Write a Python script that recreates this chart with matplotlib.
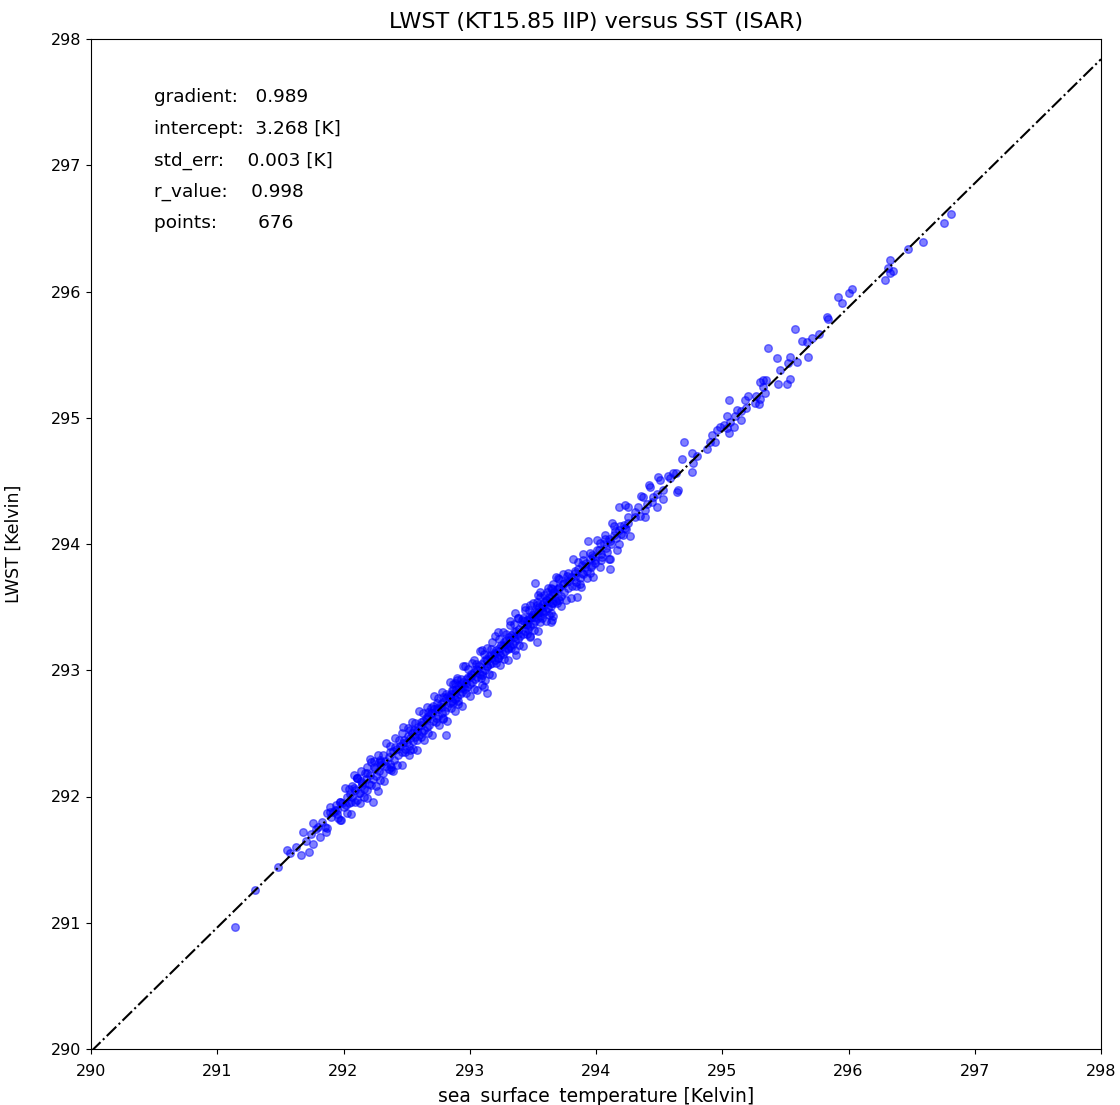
import matplotlib
matplotlib.use("Agg")
import matplotlib.pyplot as plt

# (SST [K], LWST [K]) pairs, grouped by region
pts_low = [
    (291.14, 290.97), (291.30, 291.26), (291.48, 291.44), (291.55, 291.58), (291.66, 291.54),
    (291.73, 291.56), (291.68, 291.72), (291.76, 291.62), (291.76, 291.79), (291.80, 291.76),
    (291.81, 291.68), (291.87, 291.75), (291.89, 291.88), (291.93, 291.89), (291.96, 291.83),
    (291.98, 291.81), (292.00, 291.92), (292.04, 291.95), (291.97, 291.96), (292.07, 292.00),
    (292.11, 291.97), (292.08, 292.07), (292.11, 292.15), (292.15, 292.09), (292.19, 292.05),
    (292.19, 292.19), (292.24, 292.23), (292.28, 292.27), (292.38, 292.21), (292.22, 292.27),
    (291.85, 291.76), (291.97, 291.81), (291.87, 291.87), (291.95, 291.89), (292.03, 292.00),
    (292.13, 292.03), (292.27, 292.04), (292.15, 292.11), (292.30, 292.25), (292.38, 292.23),
    (292.37, 292.35), (292.53, 292.37), (292.47, 292.42), (292.46, 292.50), (292.67, 292.67),
    (292.74, 292.74), (292.88, 292.90), (293.10, 292.88), (292.81, 292.49), (292.79, 292.62),
    (292.61, 292.59), (292.53, 292.53), (292.58, 292.45), (292.41, 292.39), (292.29, 292.29),
    (292.19, 292.23), (292.11, 292.15), (292.07, 292.08), (292.23, 291.96), (291.97, 291.96),
    (291.89, 291.92), (291.62, 291.60), (291.70, 291.65), (291.74, 291.70), (291.78, 291.74),
    (291.83, 291.80), (291.86, 291.72), (291.90, 291.84), (291.94, 291.93), (291.58, 291.55),
]

pts_mid = [
    (293.54, 293.60), (293.71, 293.56), (293.65, 293.40), (293.38, 293.41), (293.48, 293.26),
    (293.30, 293.18), (293.22, 293.10), (293.14, 293.03), (293.00, 292.95), (292.95, 292.87),
    (292.79, 292.79), (292.78, 292.71), (292.87, 292.74), (293.36, 293.45), (293.32, 293.36),
    (293.53, 293.22), (293.37, 293.12), (293.22, 293.30), (293.18, 293.22), (293.10, 293.16),
    (293.03, 293.08), (292.95, 293.03), (293.10, 292.96), (293.14, 292.82), (293.11, 292.87),
    (292.90, 292.92), (292.86, 292.84), (292.91, 292.76), (292.71, 292.72), (292.69, 292.66),
    (294.02, 293.95), (294.09, 293.94), (293.97, 293.91), (294.05, 293.90), (294.11, 293.88),
    (293.90, 293.87), (293.99, 293.87), (293.97, 293.83), (293.91, 293.82), (294.11, 293.80),
    (294.03, 293.82), (293.83, 293.79), (293.89, 293.77), (293.95, 293.77), (293.77, 293.75),
    (293.83, 293.74), (293.70, 293.73), (293.52, 293.69), (293.79, 293.71), (293.75, 293.69),
    (293.87, 293.68), (293.66, 293.68), (293.71, 293.65), (293.64, 293.65), (293.61, 293.62),
    (293.66, 293.61), (293.85, 293.58), (293.56, 293.58), (293.60, 293.56), (293.53, 293.54),
    (293.65, 293.53), (293.48, 293.52), (293.58, 293.50), (293.44, 293.48), (293.54, 293.46),
    (293.64, 293.45), (293.49, 293.42), (293.64, 293.38), (293.42, 293.41), (293.56, 293.38),
    (293.45, 293.37), (293.94, 294.02), (294.11, 294.02), (294.03, 294.01), (294.17, 293.95),
    (294.07, 294.04),
]

pts_core_a = [
    (291.92, 291.88), (291.95, 291.86), (291.99, 291.95), (292.02, 291.93), (292.05, 292.02),
    (292.06, 291.96), (292.09, 292.05), (292.12, 292.03), (292.14, 292.12), (292.16, 292.06),
    (292.18, 292.14), (292.20, 292.10), (292.21, 292.17), (292.23, 292.14), (292.25, 292.22),
    (292.26, 292.16), (292.28, 292.20), (292.30, 292.27), (292.31, 292.19), (292.33, 292.28),
    (292.34, 292.24), (292.36, 292.31), (292.37, 292.26), (292.39, 292.36), (292.40, 292.29),
    (292.42, 292.38), (292.43, 292.33), (292.45, 292.40), (292.46, 292.35), (292.48, 292.45),
    (292.49, 292.38), (292.50, 292.43), (292.51, 292.48), (292.52, 292.40), (292.54, 292.50),
    (292.55, 292.44), (292.56, 292.53), (292.57, 292.47), (292.59, 292.55), (292.60, 292.49),
    (292.61, 292.57), (292.62, 292.51), (292.63, 292.60), (292.64, 292.53), (292.65, 292.62),
    (292.66, 292.55), (292.67, 292.64), (292.68, 292.57), (292.70, 292.66), (292.71, 292.60),
    (292.72, 292.69), (292.73, 292.62), (292.74, 292.70), (292.75, 292.64), (292.77, 292.73),
    (292.78, 292.66), (292.79, 292.75), (292.80, 292.68), (292.58, 292.52), (292.66, 292.61),
    (292.75, 292.69), (292.53, 292.46), (292.81, 292.78), (292.82, 292.71), (292.83, 292.80),
    (292.84, 292.74), (292.85, 292.81), (292.86, 292.76), (292.87, 292.84), (292.88, 292.77),
    (292.89, 292.85), (292.90, 292.79), (292.91, 292.88), (292.92, 292.81), (292.93, 292.89),
    (292.94, 292.83), (292.95, 292.91), (292.96, 292.85), (292.97, 292.93), (292.98, 292.87),
    (292.99, 292.95), (293.00, 292.89), (293.01, 292.97), (293.02, 292.91), (293.03, 292.99),
    (293.04, 292.93), (293.05, 293.01), (293.06, 292.95), (293.07, 293.03), (293.08, 292.97),
    (293.09, 293.05), (293.10, 292.99), (292.84, 292.79), (292.93, 292.86), (293.02, 292.96),
    (292.88, 292.82), (292.97, 292.90), (293.06, 293.00), (293.11, 293.07), (293.12, 293.00),
    (293.13, 293.09), (293.14, 293.03), (293.15, 293.11), (293.16, 293.05), (293.17, 293.12),
    (293.18, 293.06), (293.19, 293.14), (293.20, 293.08), (293.21, 293.16), (293.22, 293.10),
    (293.23, 293.18), (293.24, 293.12), (293.25, 293.20), (293.26, 293.13), (293.27, 293.22),
    (293.28, 293.15), (293.29, 293.24), (293.30, 293.17), (293.31, 293.26), (293.32, 293.19),
    (293.33, 293.28), (293.34, 293.21), (293.35, 293.30), (293.36, 293.23), (293.37, 293.31),
    (293.38, 293.25), (293.39, 293.33), (293.40, 293.27), (293.14, 293.08), (293.20, 293.13),
    (293.26, 293.19), (293.32, 293.24), (293.38, 293.29), (293.17, 293.10), (293.23, 293.15),
    (293.29, 293.21), (293.35, 293.26), (293.41, 293.37), (293.42, 293.29), (293.43, 293.39),
    (293.44, 293.31), (293.45, 293.40), (293.46, 293.33), (293.47, 293.42), (293.48, 293.35),
    (293.49, 293.44), (293.50, 293.37), (293.51, 293.46), (293.52, 293.39), (293.53, 293.48),
    (293.54, 293.41), (293.55, 293.50), (293.56, 293.43), (293.57, 293.52), (293.58, 293.45),
    (293.59, 293.54), (293.60, 293.47), (293.61, 293.56), (293.62, 293.49), (293.63, 293.58),
    (293.64, 293.51), (293.65, 293.60), (293.66, 293.53), (293.67, 293.62), (293.68, 293.55),
    (293.69, 293.64), (293.70, 293.57), (293.45, 293.36), (293.51, 293.42), (293.57, 293.47),
    (293.63, 293.54), (293.48, 293.41), (293.54, 293.45), (293.71, 293.66), (293.72, 293.59),
    (293.74, 293.68), (293.75, 293.62), (293.77, 293.71), (293.78, 293.65), (293.80, 293.74),
    (293.81, 293.67), (293.83, 293.77), (293.84, 293.70), (293.86, 293.80), (293.87, 293.73),
    (293.89, 293.83), (293.90, 293.76), (293.92, 293.85), (293.93, 293.79), (293.95, 293.88),
    (293.96, 293.82), (293.98, 293.90), (293.99, 293.85), (294.01, 293.95), (294.04, 293.92),
    (294.06, 294.00), (294.08, 293.97), (294.10, 294.04), (294.12, 294.00), (294.14, 294.07),
    (294.16, 294.05), (294.18, 294.11), (294.20, 294.08), (294.22, 294.15), (294.24, 294.12),
]

pts_core_b = [
    (292.01, 292.07), (292.03, 291.87), (292.04, 292.06), (292.06, 291.86), (292.08, 292.17),
    (292.09, 291.96), (292.11, 292.15), (292.13, 291.95), (292.14, 292.20), (292.16, 292.00),
    (292.17, 292.19), (292.19, 291.99), (292.21, 292.30), (292.22, 292.09), (292.24, 292.28),
    (292.26, 292.08), (292.27, 292.33), (292.29, 292.13), (292.31, 292.33), (292.32, 292.12),
    (292.34, 292.42), (292.36, 292.22), (292.37, 292.40), (292.39, 292.20), (292.41, 292.46),
    (292.42, 292.25), (292.44, 292.45), (292.46, 292.25), (292.47, 292.55), (292.49, 292.35),
    (292.51, 292.54), (292.52, 292.33), (292.54, 292.59), (292.55, 292.38), (292.57, 292.58),
    (292.58, 292.37), (292.60, 292.68), (292.61, 292.47), (292.63, 292.66), (292.64, 292.45),
    (292.66, 292.71), (292.67, 292.50), (292.69, 292.70), (292.70, 292.49), (292.72, 292.80),
    (292.73, 292.59), (292.75, 292.78), (292.76, 292.57), (292.78, 292.83), (292.79, 292.61),
    (292.81, 292.81), (292.82, 292.60), (292.84, 292.91), (292.85, 292.70), (292.87, 292.89),
    (292.88, 292.68), (292.90, 292.94), (292.91, 292.73), (292.93, 292.93), (292.94, 292.72),
    (292.96, 293.03), (292.97, 292.82), (292.99, 293.01), (293.00, 292.80), (293.02, 293.06),
    (293.03, 292.85), (293.05, 293.05), (293.06, 292.84), (293.08, 293.15), (293.09, 292.94),
    (293.11, 293.13), (293.12, 292.92), (293.14, 293.18), (293.15, 292.97), (293.17, 293.17),
    (293.18, 292.96), (293.20, 293.27), (293.21, 293.06), (293.23, 293.25), (293.24, 293.04),
    (293.26, 293.30), (293.27, 293.09), (293.29, 293.29), (293.30, 293.08), (293.32, 293.39),
    (293.33, 293.18), (293.35, 293.37), (293.36, 293.16), (293.38, 293.41), (293.39, 293.20),
    (293.41, 293.40), (293.42, 293.19), (293.44, 293.50), (293.45, 293.29), (293.47, 293.48),
    (293.48, 293.27), (293.50, 293.53), (293.51, 293.32), (293.53, 293.52), (293.54, 293.31),
    (293.56, 293.62), (293.57, 293.41), (293.59, 293.60), (293.60, 293.39), (293.62, 293.65),
    (293.63, 293.44), (293.65, 293.64), (293.66, 293.43), (293.68, 293.74), (293.69, 293.53),
    (293.71, 293.72), (293.72, 293.51), (293.74, 293.76), (293.76, 293.56), (293.78, 293.77),
    (293.80, 293.57), (293.82, 293.88), (293.84, 293.67), (293.86, 293.86), (293.88, 293.66),
    (293.90, 293.92), (293.93, 293.73), (293.95, 293.93), (293.98, 293.74), (294.01, 294.03),
    (294.04, 293.87), (294.07, 294.07), (294.10, 293.88), (294.14, 294.14), (294.18, 294.00),
]

pts_high = [
    (294.23, 294.13), (294.27, 294.06), (294.25, 294.21), (294.31, 294.21), (294.39, 294.21),
    (294.39, 294.27), (294.33, 294.29), (294.25, 294.29), (294.23, 294.31), (294.48, 294.29),
    (294.40, 294.32), (294.53, 294.36), (294.37, 294.37), (294.45, 294.37), (294.53, 294.43),
    (294.65, 294.43), (294.43, 294.45), (294.51, 294.51), (294.59, 294.52), (294.49, 294.53),
    (294.61, 294.56), (294.76, 294.57), (294.77, 294.64), (294.68, 294.67), (294.80, 294.70),
    (294.76, 294.72), (294.70, 294.81), (294.88, 294.75), (294.94, 294.81), (294.90, 294.81),
    (294.92, 294.86), (294.96, 294.90), (294.98, 294.93), (294.57, 294.54), (294.42, 294.47),
    (294.64, 294.41), (294.48, 294.40), (294.36, 294.38), (294.44, 294.33), (294.18, 294.29),
    (294.31, 294.25), (294.35, 294.22), (294.13, 294.17), (294.25, 294.17), (294.19, 294.14),
    (294.15, 294.10), (294.21, 294.07), (294.63, 294.56),
    (295.05, 294.88), (295.01, 294.94), (295.04, 294.92), (295.09, 294.93), (295.15, 294.98),
    (295.06, 294.97), (295.10, 295.01), (295.04, 295.01), (295.15, 295.05), (295.19, 295.08),
    (295.12, 295.06), (295.29, 295.11), (295.18, 295.14), (295.26, 295.12), (295.30, 295.15),
    (295.05, 295.14), (295.27, 295.17), (295.20, 295.17), (295.34, 295.20), (295.32, 295.24),
    (295.54, 295.31), (295.51, 295.27), (295.44, 295.27), (295.35, 295.30), (295.30, 295.28),
    (295.32, 295.30), (295.46, 295.38), (295.52, 295.43), (295.59, 295.44), (295.68, 295.48),
    (295.43, 295.47), (295.54, 295.48), (295.36, 295.55), (295.67, 295.60), (295.63, 295.61),
    (295.71, 295.63), (295.77, 295.66), (295.58, 295.70), (295.84, 295.78), (295.83, 295.80),
    (295.95, 295.91), (295.92, 295.96), (296.00, 295.99), (296.03, 296.02),
    (296.29, 296.09), (296.33, 296.15), (296.35, 296.16), (296.31, 296.19), (296.33, 296.25),
    (296.47, 296.34), (296.59, 296.39), (296.76, 296.54), (296.81, 296.61),
]

# dash-dot reference line end points as drawn
line_sst = [290.0, 298.0]
line_lwst = [289.98, 297.84]

stat_lines = [
    "gradient:   0.989",
    "intercept:  3.268 [K]",
    "std_err:    0.003 [K]",
    "r_value:    0.998",
    "points:       676",
]
stat_y = [297.5, 297.25, 297.0, 296.75, 296.5]

ticks = [290, 291, 292, 293, 294, 295, 296, 297, 298]

all_pts = pts_low + pts_mid + pts_core_a + pts_core_b + pts_high
sst = [p[0] for p in all_pts]
lwst = [p[1] for p in all_pts]

fig = plt.figure(figsize=(11.2, 11.05), dpi=100)
ax = fig.add_axes([91 / 1120, 56 / 1105, 1010 / 1120, 1010 / 1105])
ax.scatter(sst, lwst, s=30, c="blue", alpha=0.5)
ax.plot(line_sst, line_lwst, "k-.", lw=1.5)
ax.set_xlim(290, 298)
ax.set_ylim(290, 298)
ax.set_xticks(ticks)
ax.set_yticks(ticks)
ax.tick_params(labelsize=11.5)
ax.tick_params(axis="x", pad=7)
for txt, yy in zip(stat_lines, stat_y):
    ax.text(290.5, yy, txt, fontsize=13.3)
ax.set_title("LWST (KT15.85 IIP) versus SST (ISAR)", fontsize=16, pad=8)
ax.set_xlabel("sea_surface_temperature [Kelvin]", fontsize=13.5, labelpad=6)
ax.set_ylabel("LWST [Kelvin]", fontsize=12.5, labelpad=20)
fig.savefig("out.png", dpi=100)
